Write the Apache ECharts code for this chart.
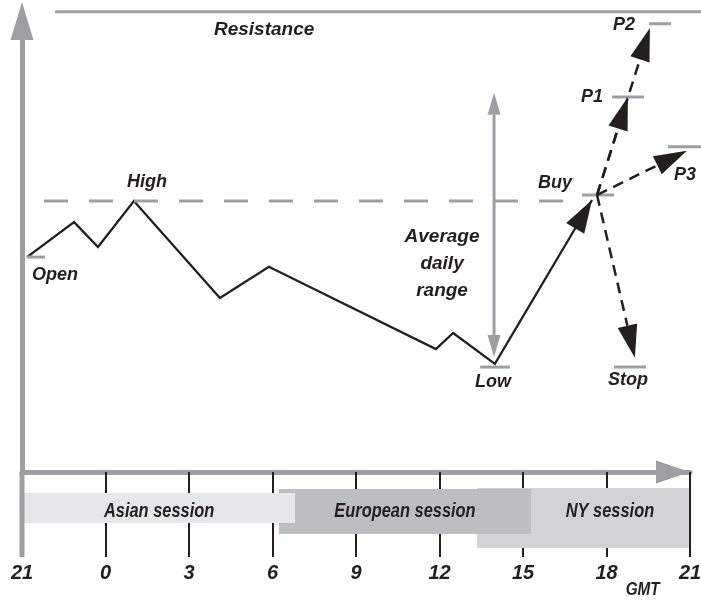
<!DOCTYPE html>
<html><head><meta charset="utf-8">
<script src="https://cdn.jsdelivr.net/npm/echarts@6/dist/echarts.min.js"></script>
<style>html,body{margin:0;padding:0;background:#fff}#c{width:701px;height:601px}</style>
</head><body><div id="c"></div>
<script>
// ---- data (hours counted from 21:00 GMT, price in arbitrary units; resistance = 100) ----
const hourTickLabels = ['21','0','3','6','9','12','15','18','21'];
const priceHours  = [0.18, 1.87, 2.73, 4.02, 7.11, 8.87, 14.87, 15.49, 16.99, 20.48];
const priceValues = [46.7, 54.3, 48.9, 58.9, 37.8, 44.6, 26.7, 30.2, 23.5, 59.1];
const sessionNames = ['Asian session', 'European session', 'NY session'];
const sessionStart = [0.04, 9.23, 16.35];
const sessionEnd   = [9.81, 18.29, 23.96];
const levelNames  = ['Open', 'Low', 'Buy', 'Stop', 'P1', 'P2', 'P3'];
const levelStart  = [0.18, 16.46, 20.12, 21.27, 21.2, 22.53, 23.21];
const levelEnd    = [0.83, 17.53, 21.27, 22.42, 22.35, 23.32, 24.4];
const levelValues = [46.7, 22.8, 60.2, 22.8, 81.5, 97.4, 70.7];
const highLevel = 58.9, highFrom = 0.79, highTo = 19.58;
const resistanceLevel = 100, resistanceFrom = 1.19, resistanceTo = 24.4;
const buyOrigin = [20.66, 60.2];
const targetNames  = ['P1', 'P2', 'P3', 'Stop'];
const targetHours  = [21.77, 22.56, 23.89, 22.02];
const targetValues = [81.5, 96.5, 69.8, 24.8];
const rangeHour = 16.96, rangeTop = 82.4, rangeBottom = 25.0;

// ---- styles ----
const GRAY = '#9d9fa2', INK = '#231f20';
const FONT = "'Liberation Sans', Arial, sans-serif";
const sessionColors = ['#e6e7e8', '#bcbec0', '#d1d3d4'];
const sessionBand = [[21, 30, 3], [17, 45, 2], [16, 60, 1]]; // offset below axis, height, stacking
const txt = (text, x, y, size, sx, extraStyle) => ({
  type: 'text', x: x, y: y, z2: 20, scaleX: sx || 1,
  style: Object.assign({ text: text, fill: INK, fontSize: size, fontFamily: FONT, fontWeight: 'bold', fontStyle: 'italic', align: 'center', verticalAlign: 'middle' }, extraStyle || {})
});

function head(tip, from, len, wid) {
  const dx = tip[0] - from[0], dy = tip[1] - from[1], d = Math.hypot(dx, dy);
  const ux = dx / d, uy = dy / d, bx = tip[0] - ux * len, by = tip[1] - uy * len;
  return { pts: [[tip[0], tip[1]], [bx - uy * wid / 2, by + ux * wid / 2], [bx + uy * wid / 2, by - ux * wid / 2]], base: [bx, by] };
}

const chart = echarts.init(document.getElementById('c'), null, { renderer: 'canvas', width: 701, height: 601 });

const labelOffsets = { Open: [28, 18], Low: [-2, 18], Buy: [-42, -12], Stop: [-7, 22], P1: [-36, 0], P2: [-26, -3], P3: [-2, 24] };

chart.setOption({
  animation: false,
  grid: { left: 22, right: 11, top: 21, bottom: 129, outerBoundsMode: 'none', containLabel: false },
  xAxis: {
    type: 'value', min: 0, max: 24, interval: 3,
    axisLine: { show: true, onZero: false, lineStyle: { color: GRAY, width: 5 }, symbol: ['none', 'triangle'], symbolSize: [23, 34], symbolOffset: [0, -17] },
    axisTick: { show: true, length: 85, lineStyle: { color: INK, width: 2 } },
    axisLabel: { show: true, margin: 91, fontSize: 20, fontFamily: FONT, fontWeight: 'bold', fontStyle: 'italic', color: INK,
      showMinLabel: true, showMaxLabel: true,
      formatter: v => hourTickLabels[Math.round(v / 3)] },
    splitLine: { show: false }
  },
  yAxis: {
    type: 'value', min: 0, max: 98, z: 1,
    axisLine: { show: true, onZero: false, lineStyle: { color: GRAY, width: 5 }, symbol: ['none', 'triangle'], symbolSize: [23, 38] },
    axisTick: { show: false }, axisLabel: { show: false }, splitLine: { show: false }
  },
  series: [
    { // trading sessions
      type: 'custom', clip: false, z: 3,
      data: sessionNames.map((n, i) => [sessionStart[i], sessionEnd[i]]),
      renderItem: (params, api) => {
        const i = params.dataIndex;
        const a = api.coord([sessionStart[i], 0]), b = api.coord([sessionEnd[i], 0]);
        const band = sessionBand[i];
        const from = i === sessionNames.length - 1 ? api.coord([sessionEnd[i - 1], 0])[0] : a[0];
        return { type: 'group', children: [
          { type: 'rect', z2: band[2], shape: { x: a[0], y: a[1] + band[0], width: b[0] - a[0], height: band[1] }, style: { fill: sessionColors[i] } },
          txt(sessionNames[i], (from + b[0]) / 2, a[1] + 39, 20, 0.82)
        ] };
      }
    },
    { // price path
      type: 'line', clip: false, z: 4, symbol: 'none',
      data: priceHours.map((h, i) => [h, priceValues[i]]),
      lineStyle: { color: INK, width: 2.3, join: 'miter' }
    },
    { // reference lines, markers, arrows and labels
      type: 'custom', clip: false, z: 5, data: [0],
      renderItem: (params, api) => {
        const ch = [];
        // vertical axis continues below the time axis
        const o = api.coord([0, 0]);
        ch.push({ type: 'line', shape: { x1: o[0], y1: o[1], x2: o[0], y2: o[1] + 85 }, style: { stroke: GRAY, lineWidth: 5 } });
        // resistance
        const r0 = api.coord([resistanceFrom, resistanceLevel]), r1 = api.coord([resistanceTo, resistanceLevel]);
        ch.push({ type: 'line', shape: { x1: r0[0], y1: r0[1], x2: r1[0], y2: r1[1] }, style: { stroke: GRAY, lineWidth: 3 } });
        ch.push(txt('Resistance', api.coord([8.7, resistanceLevel])[0], r0[1] + 18, 19));
        // high dashed level
        const h0 = api.coord([highFrom, highLevel]), h1 = api.coord([highTo, highLevel]);
        ch.push({ type: 'line', shape: { x1: h0[0], y1: h0[1], x2: h1[0], y2: h1[1] }, style: { stroke: GRAY, lineWidth: 3, lineDash: [24, 21] } });
        const hp = api.coord([priceHours[3], priceValues[3]]);
        ch.push(txt('High', hp[0] + 13, hp[1] - 19, 18));
        // level markers
        levelNames.forEach((n, i) => {
          const p0 = api.coord([levelStart[i], levelValues[i]]), p1 = api.coord([levelEnd[i], levelValues[i]]);
          ch.push({ type: 'line', shape: { x1: p0[0], y1: p0[1], x2: p1[0], y2: p1[1] }, style: { stroke: GRAY, lineWidth: 3 } });
        });
        // open / low labels
        const op = api.coord([priceHours[0], priceValues[0]]);
        ch.push(txt('Open', op[0] + labelOffsets.Open[0], op[1] + labelOffsets.Open[1], 18));
        const lp = api.coord([priceHours[8], priceValues[8]]);
        ch.push(txt('Low', lp[0] + labelOffsets.Low[0], lp[1] + labelOffsets.Low[1], 18));
        // arrow into the buy point
        const last = api.coord([priceHours[priceHours.length - 1], priceValues[priceValues.length - 1]]);
        const prev = api.coord([priceHours[priceHours.length - 2], priceValues[priceValues.length - 2]]);
        ch.push({ type: 'polygon', shape: { points: head(last, prev, 33, 21).pts }, style: { fill: INK } });
        const bo = api.coord(buyOrigin);
        ch.push(txt('Buy', bo[0] + labelOffsets.Buy[0], bo[1] + labelOffsets.Buy[1], 18));
        // trade targets
        targetNames.forEach((n, i) => {
          const t = api.coord([targetHours[i], targetValues[i]]);
          const hd = head(t, bo, 33, 20);
          ch.push({ type: 'line', shape: { x1: bo[0], y1: bo[1], x2: hd.base[0], y2: hd.base[1] }, style: { stroke: INK, lineWidth: 2.5, lineDash: [11, 7] } });
          ch.push({ type: 'polygon', shape: { points: hd.pts }, style: { fill: INK } });
          const off = labelOffsets[n];
          ch.push(txt(n, t[0] + off[0], t[1] + off[1], 18));
        });
        // average daily range
        const a0 = api.coord([rangeHour, rangeTop]), a1 = api.coord([rangeHour, rangeBottom]);
        const ha = head(a0, a1, 22, 13), hb = head(a1, a0, 22, 13);
        ch.push({ type: 'line', shape: { x1: ha.base[0], y1: ha.base[1], x2: hb.base[0], y2: hb.base[1] }, style: { stroke: GRAY, lineWidth: 3 } });
        ch.push({ type: 'polygon', shape: { points: ha.pts }, style: { fill: GRAY } });
        ch.push({ type: 'polygon', shape: { points: hb.pts }, style: { fill: GRAY } });
        ch.push(txt('Average\ndaily\nrange', a0[0] - 52, (a0[1] + a1[1]) / 2 + 39, 19, 1, { lineHeight: 27 }));
        // GMT unit
        const g = api.coord([22.3, 0]);
        ch.push(txt('GMT', g[0], g[1] + 118, 18, 0.85));
        return { type: 'group', children: ch };
      }
    }
  ]
});
</script>
</body></html>
